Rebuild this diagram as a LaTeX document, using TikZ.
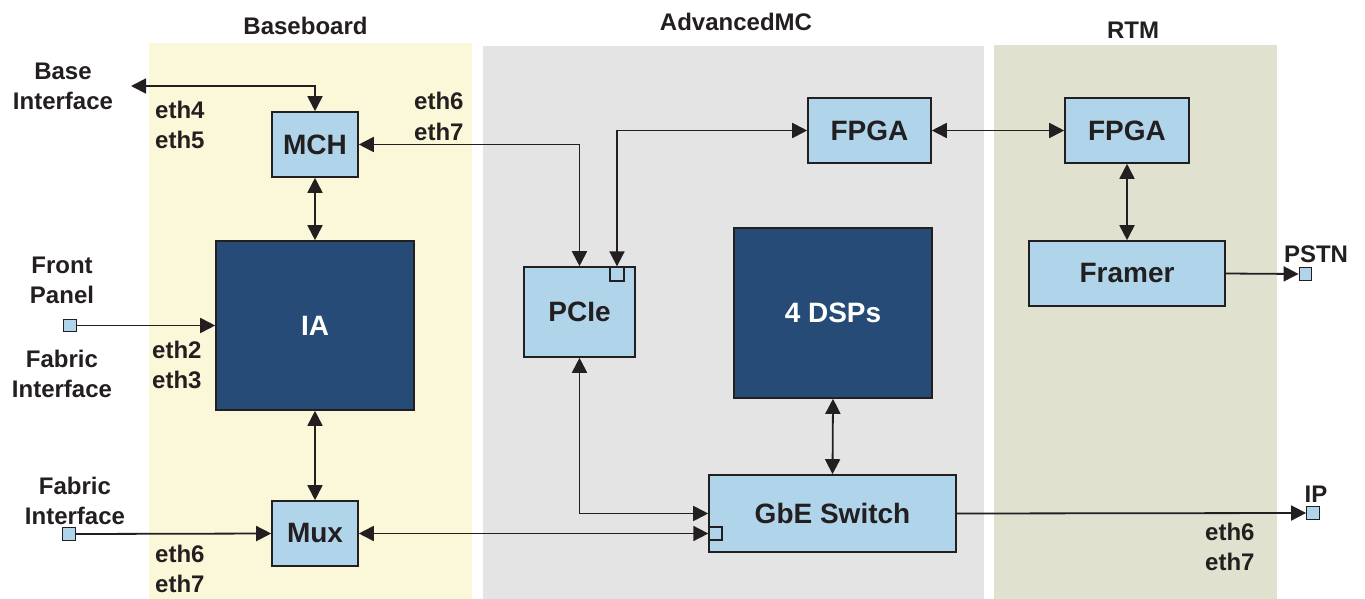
\documentclass[tikz,border=0pt]{standalone}
\usepackage{fontspec}
\setmainfont{Liberation Sans}
\usepackage{graphicx}
\usetikzlibrary{arrows.meta}
\definecolor{ybg}{RGB}{251,248,218}
\definecolor{gbg}{RGB}{228,228,228}
\definecolor{rbg}{RGB}{225,225,208}
\definecolor{lb}{RGB}{176,212,234}
\definecolor{db}{RGB}{38,75,118}
\definecolor{ink}{RGB}{35,31,32}
\begin{document}
\begin{tikzpicture}[x=1pt,y=-1pt,
  boxfont/.style={font=\fontsize{28}{34}\selectfont\bfseries},
  lbox/.style={draw=ink, line width=1.6pt, fill=lb, inner sep=0pt, text=ink, boxfont},
  dbox/.style={draw=ink, line width=1.6pt, fill=db, inner sep=0pt, text=white, boxfont},
  port/.style={draw=ink, line width=1.3pt, fill=lb, minimum size=12.5pt, inner sep=0pt},
  lbl/.style={text=ink, font=\fontsize{24}{30}\selectfont\bfseries, inner sep=0pt},
  conn/.style={draw=ink, line width=1.8pt, -{Triangle[length=15pt,width=15pt]}},
  dconn/.style={draw=ink, line width=1.8pt, {Triangle[length=15pt,width=15pt]}-{Triangle[length=15pt,width=15pt]}},
]
\useasboundingbox (0,0) rectangle (1365,599);
\fill[white] (0,0) rectangle (1365,599);
% region backgrounds
\fill[ybg] (149,43) rectangle (472,599);
\fill[gbg] (483,46) rectangle (984,599);
\fill[rbg] (994,45) rectangle (1277,599);
% titles
\node[lbl, anchor=base] (tBase) at (305.5,35) {Baseboard};
\node[lbl, anchor=base] (tAMC) at (736,31) {AdvancedMC};
\node[lbl, anchor=base] (tRTM) at (1133,39) {RTM};
% boxes
\node[lbox, minimum width=86pt, minimum height=65pt] (MCH) at (315,144.5) {MCH};
\node[dbox, minimum width=198pt, minimum height=169pt] (IA) at (315,325.5) {IA};
\node[lbox, minimum width=86pt, minimum height=65pt] (Mux) at (315,533.5) {Mux};
\node[lbox, minimum width=111pt, minimum height=90pt] (PCIe) at (579.5,312) {PCIe};
\node[port, minimum size=14pt] (sq1) at (617,274) {};
\node[lbox, minimum width=123pt, minimum height=65pt] (FPGA1) at (869.5,130.5) {FPGA};
\node[dbox, minimum width=198pt, minimum height=170pt] (DSP) at (833,313) {4 DSPs};
\node[lbox, minimum width=247pt, minimum height=77pt] (GbE) at (832.5,513.5) {GbE Switch};
\node[port, minimum size=13pt] (sq2) at (715.5,533.5) {};
\node[lbox, minimum width=124pt, minimum height=65pt] (FPGA2) at (1127,130.5) {FPGA};
\node[lbox, minimum width=196pt, minimum height=65pt] (Framer) at (1127,273.5) {Framer};
% ports
\node[port] (pstn) at (1305.5,274) {};
\node[port] (ip) at (1313,513) {};
\node[port] (fp) at (70,325.5) {};
\node[port] (fab) at (69,534) {};
% labels (base anchor = baseline of last line)
\node[lbl, align=center, anchor=base] (lBase) at (63,110) {Base\\Interface};
\node[lbl, align=left, anchor=base west] (lE45) at (155,149) {eth4\\eth5};
\node[lbl, align=left, anchor=base west] (lE67a) at (414,140) {eth6\\eth7};
\node[lbl, align=center, anchor=base] (lFront) at (62,303) {Front\\Panel};
\node[lbl, align=center, anchor=base] (lFab1) at (62,397) {Fabric\\Interface};
\node[lbl, align=left, anchor=base west] (lE23) at (152,388) {eth2\\eth3};
\node[lbl, align=center, anchor=base] (lFab2) at (75,524) {Fabric\\Interface};
\node[lbl, align=left, anchor=base west] (lE67b) at (155,592) {eth6\\eth7};
\node[lbl, align=left, anchor=base west] (lE67c) at (1205,570) {eth6\\eth7};
\node[lbl, anchor=base] (lPSTN) at (1316,262) {PSTN};
\node[lbl, anchor=base] (lIP) at (1316,502) {IP};
% connectors
\coordinate (bi) at (131,86);
\draw[dconn] (bi) -| (MCH.north);
\draw[dconn] (MCH.east) -| (PCIe.north);
\draw[dconn] (FPGA1.west) -| (sq1.north);
\draw[dconn] (FPGA1.east) -- (FPGA2.west);
\draw[dconn] (MCH.south) -- (IA.north);
\draw[conn] (fp.east) -- (IA.west);
\draw[dconn] (IA.south) -- (Mux.north);
\draw[conn] (fab.east) -- (Mux.west);
\draw[dconn] (Mux.east) -- (sq2.west);
\draw[dconn] (PCIe.south) |- (GbE.west);
\draw[dconn] (DSP.south) -- (GbE.north);
\draw[conn] (GbE.east) -- (ip.west);
\draw[dconn] (FPGA2.south) -- (Framer.north);
\draw[conn] (Framer.east) -- (pstn.west);
\end{tikzpicture}
\end{document}
